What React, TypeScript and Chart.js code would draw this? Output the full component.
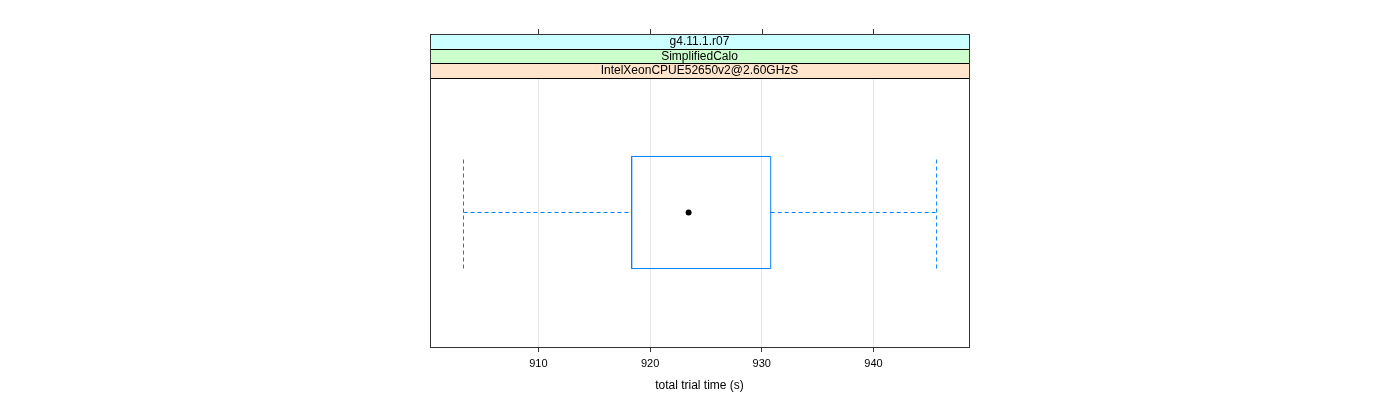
import React, { useEffect, useRef } from "react";
import { Chart, registerables } from "chart.js";

Chart.register(...registerables);

const stripLabels = ["g4.11.1.r07", "SimplifiedCalo", "IntelXeonCPUE52650v2@2.60GHzS"];
const stripColors = ["#CCFFFF", "#CCFFCC", "#FFE5CC"];
const lowerWhisker = [903.3];
const q1 = [918.35];
const median = [923.45];
const q3 = [930.8];
const upperWhisker = [945.65];
const xTicks = [910, 920, 930, 940];
const xMin = 900.3;
const xMax = 948.55;
const axisTitle = "total trial time (s)";

const FONT = "'Liberation Sans', Arial, Helvetica, sans-serif";
const BLUE = "#0080ff";

const panelPlugin = {
  id: "panelPlugin",
  afterDraw(chart: any) {
    const { ctx, chartArea } = chart;
    const xs = chart.scales.x;
    const l = chartArea.left, r = chartArea.right;
    const stripH = 14.67;
    const top = chartArea.top - stripH * 3;
    ctx.save();
    for (let i = 0; i < stripLabels.length; i++) {
      const y0 = top + i * stripH;
      ctx.fillStyle = stripColors[i];
      ctx.fillRect(l, y0, r - l, stripH);
      ctx.strokeStyle = "#000";
      ctx.lineWidth = 1;
      ctx.strokeRect(Math.round(l) + 0.5, Math.round(y0) + 0.5, Math.round(r - l), Math.round(stripH));
      ctx.fillStyle = "#000";
      ctx.font = `12px ${FONT}`;
      ctx.textAlign = "center";
      ctx.textBaseline = "middle";
      ctx.fillText(stripLabels[i], (l + r) / 2, y0 + stripH / 2 + 0.5);
    }
    ctx.strokeStyle = "#333";
    ctx.lineWidth = 1;
    ctx.strokeRect(Math.round(l) + 0.5, Math.round(top) + 0.5, Math.round(r - l), Math.round(chartArea.bottom - top));
    for (const t of xTicks) {
      const px = Math.round(xs.getPixelForValue(t)) + 0.5;
      ctx.beginPath();
      ctx.moveTo(px, Math.round(top) - 5);
      ctx.lineTo(px, Math.round(top));
      ctx.stroke();
    }
    ctx.restore();
  },
};

export default function App() {
  const ref = useRef<HTMLCanvasElement | null>(null);
  useEffect(() => {
    const y0 = 1;
    const bh = 0.25;
    const dashed = {
      showLine: true,
      borderColor: BLUE,
      borderWidth: 1,
      borderDash: [4, 3],
      pointRadius: 0,
    };
    const chart = new Chart(ref.current as HTMLCanvasElement, {
      type: "scatter",
      data: {
        datasets: [
          {
            label: "box",
            data: [
              { x: q1[0], y: y0 - bh },
              { x: q3[0], y: y0 - bh },
              { x: q3[0], y: y0 + bh },
              { x: q1[0], y: y0 + bh },
              { x: q1[0], y: y0 - bh },
            ],
            showLine: true,
            borderColor: BLUE,
            borderWidth: 1,
            pointRadius: 0,
            fill: false,
          },
          {
            label: "lowWhisker",
            data: [
              { x: lowerWhisker[0], y: y0 },
              { x: q1[0], y: y0 },
            ],
            ...dashed,
          },
          {
            label: "highWhisker",
            data: [
              { x: q3[0], y: y0 },
              { x: upperWhisker[0], y: y0 },
            ],
            ...dashed,
          },
          {
            label: "lowCap",
            data: [
              { x: lowerWhisker[0], y: y0 - bh },
              { x: lowerWhisker[0], y: y0 + bh },
            ],
            ...dashed,
          },
          {
            label: "highCap",
            data: [
              { x: upperWhisker[0], y: y0 - bh },
              { x: upperWhisker[0], y: y0 + bh },
            ],
            ...dashed,
          },
          {
            label: "median",
            data: [{ x: median[0], y: y0 }],
            pointRadius: 3,
            pointBackgroundColor: "#000",
            pointBorderColor: "#000",
            pointBorderWidth: 0,
          },
        ],
      },
      options: {
        responsive: false,
        animation: false,
        layout: { padding: { left: 430, right: 431, top: 78, bottom: 0 } },
        plugins: {
          legend: { display: false },
          tooltip: { enabled: false },
        },
        scales: {
          x: {
            type: "linear",
            position: "bottom",
            min: xMin,
            max: xMax,
            afterFit: (s: any) => {
              s.height = 53;
            },
            afterBuildTicks: (s: any) => {
              s.ticks = xTicks.map((v) => ({ value: v }));
            },
            grid: {
              color: "#e6e6e6",
              tickLength: 5,
              tickColor: "#333",
              drawTicks: true,
            },
            border: { display: false },
            ticks: {
              color: "#000",
              font: { family: FONT, size: 11 },
              padding: 5,
              maxRotation: 0,
              callback: (v: any) => String(v),
            },
            title: {
              display: true,
              text: axisTitle,
              color: "#000",
              font: { family: FONT, size: 12 },
              padding: { top: 6, bottom: 7 },
            },
          },
          y: {
            type: "linear",
            display: false,
            min: 0.4,
            max: 1.6,
          },
        },
      },
      plugins: [panelPlugin],
    } as any);
    return () => chart.destroy();
  }, []);
  return (
    <div style={{ position: "absolute", left: 0, top: 0, width: 1400, height: 400, background: "#fff" }}>
      <canvas ref={ref} width={1400} height={400} style={{ width: 1400, height: 400 }} />
    </div>
  );
}
